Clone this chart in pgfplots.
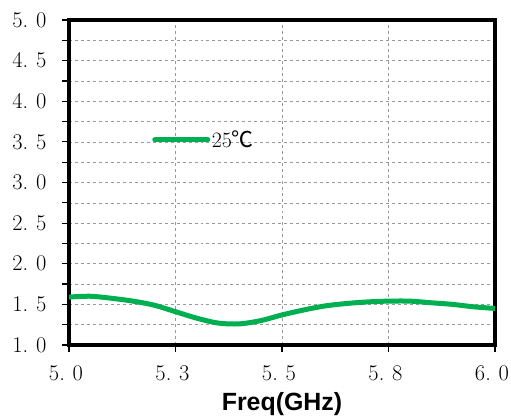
\documentclass[border=0pt]{standalone}
\usepackage{pgfplots}
\pgfplotsset{compat=1.18}
\usepackage{fontspec}
\newfontfamily\cjk{Noto Sans CJK SC}
\newfontfamily\lsans{Liberation Sans}
\definecolor{cgreen}{RGB}{0,176,80}
\newcommand{\dd}[2]{#1\makebox[0.6em][l]{.}#2}
\begin{document}
\begin{tikzpicture}
\begin{axis}[
  scale only axis, width=426bp, height=325bp,
  xmin=5, xmax=6, ymin=1, ymax=5,
  axis line style={line width=4bp},
  xtick={5,5.25,5.5,5.75,6},
  xticklabels={\dd{5}{0},\dd{5}{3},\dd{5}{5},\dd{5}{8},\dd{6}{0}},
  ytick={1,1.5,...,5},
  yticklabels={\dd{1}{0},\dd{1}{5},\dd{2}{0},\dd{2}{5},\dd{3}{0},\dd{3}{5},\dd{4}{0},\dd{4}{5},\dd{5}{0}},
  minor ytick={1.25,1.75,...,4.75},
  tick align=outside, tick pos=left,
  major tick length=7bp, minor tick length=7bp,
  tick style={black, line width=1.2bp},
  minor tick style={black, line width=1.2bp},
  grid=both,
  major grid style={gray!80, dashed, line width=0.6bp},
  minor grid style={gray!80, dashed, line width=0.6bp},
  ticklabel style={font=\fontsize{22.5}{24}\selectfont, text=black},
  xticklabel style={yshift=-10bp, xshift=-3bp},
  yticklabel style={xshift=-12bp},
  xlabel={\lsans\bfseries Freq(GHz)},
  xlabel style={font=\fontsize{25}{27}\selectfont, yshift=-5bp},
  legend style={at={(0.195,0.631)}, anchor=west, draw=none, fill=none, inner sep=0pt,
     font=\fontsize{22}{24}\selectfont, legend cell align=left, nodes={inner sep=1.5bp}},
  legend image code/.code={\draw[#1, line width=5bp, line cap=round] (0bp,0bp) -- (53bp,0bp);},
]
\addplot[cgreen, line width=5bp, smooth] coordinates {
(5.00,1.59) (5.05,1.60) (5.10,1.575) (5.15,1.54) (5.20,1.49) (5.25,1.41)
(5.30,1.33) (5.35,1.27) (5.40,1.26) (5.45,1.30) (5.50,1.37) (5.55,1.43)
(5.60,1.48) (5.65,1.51) (5.70,1.53) (5.75,1.54) (5.80,1.54) (5.85,1.52)
(5.90,1.50) (5.95,1.47) (6.00,1.45)
};
\addlegendentry{25{\cjk ℃}}
\end{axis}
\pgfresetboundingbox
\path ([shift={(-69bp,-74bp)}]current axis.south west) rectangle ([shift={(16bp,20bp)}]current axis.north east);
\end{tikzpicture}
\end{document}
